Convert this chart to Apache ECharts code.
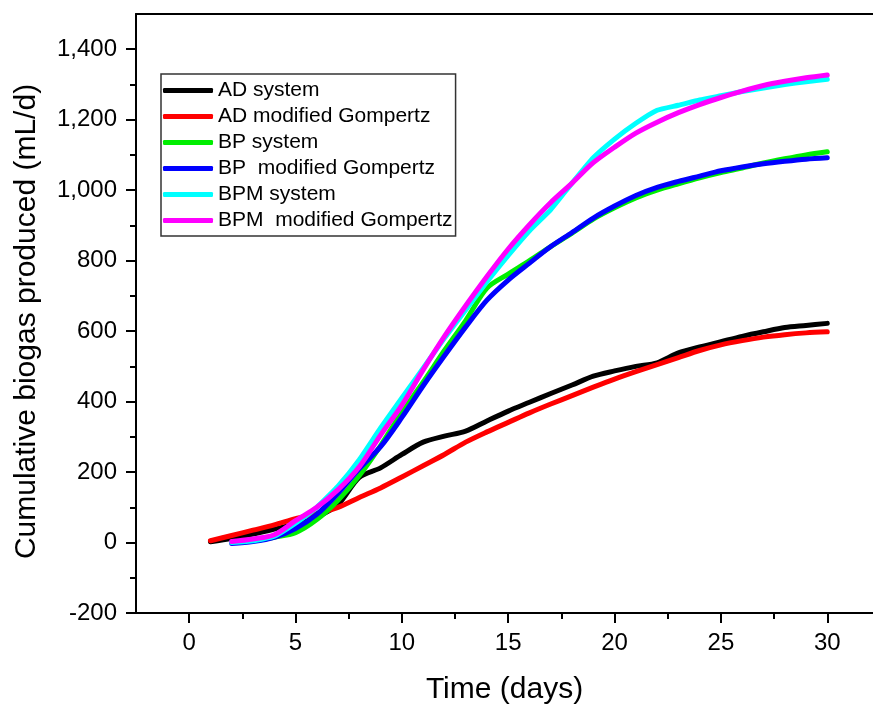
<!DOCTYPE html>
<html>
<head>
<meta charset="utf-8">
<script src="https://cdn.jsdelivr.net/npm/echarts@6/dist/echarts.min.js"></script>
<style>
  html, body { margin: 0; padding: 0; background: #fff; }
  #chart { width: 873px; height: 709px; }
</style>
</head>
<body>
<div id="chart"></div>
<script>
// days
var daysAD = [1,2,3,4,5,6,7,8,9,10,11,12,13,14,15,16,17,18,19,20,21,22,23,24,25,26,27,28,29,30];
var daysBP = [2,3,4,5,6,7,8,9,10,11,12,13,14,15,16,17,18,19,20,21,22,23,24,25,26,27,28,29,30];

// cumulative biogas (mL/d)
var adSystem   = [2,12,24,38,52,72,108,185,212,250,285,302,316,345,373,398,423,447,472,487,500,510,538,555,570,585,598,610,616,622];
var adGompertz = [5,20,35,50,68,82,100,128,155,186,218,250,285,314,341,368,393,417,441,464,485,505,525,545,561,573,583,590,595,598];
var bpSystem   = [0,5,15,28,65,120,190,275,370,455,545,630,722,762,800,840,878,918,950,978,1000,1018,1035,1050,1063,1077,1089,1100,1109];
var bpGompertz = [-3,3,15,40,80,140,210,272,355,445,530,612,688,745,793,840,880,921,955,985,1008,1025,1040,1055,1066,1075,1082,1088,1092];
var bpmSystem  = [0,5,18,55,100,160,235,325,410,495,580,660,740,815,885,945,1020,1092,1145,1190,1227,1241,1256,1268,1280,1290,1300,1308,1315];
var bpmGompertz= [3,10,22,62,100,150,215,305,390,490,585,672,755,833,902,965,1020,1078,1122,1162,1193,1220,1243,1263,1281,1297,1309,1319,1327];

// tick positions
var xMajor = [0,5,10,15,20,25,30];
var xMinor = [2.5,7.5,12.5,17.5,22.5,27.5];
var yMajor = [-200,0,200,400,600,800,1000,1200,1400];
var yMinor = [-100,100,300,500,700,900,1100,1300];

var font = 'Liberation Sans, Arial, sans-serif';

function pairs(days, vals) {
  return days.map(function (d, i) { return [d, vals[i]]; });
}

function line(name, color, days, vals, smooth) {
  return {
    name: name,
    type: 'line',
    data: pairs(days, vals),
    showSymbol: false,
    symbol: 'none',
    smooth: smooth,
    lineStyle: { color: color, width: 5, cap: 'round', join: 'round' },
    itemStyle: { color: color }
  };
}

var myChart = echarts.init(document.getElementById('chart'));

var option = {
  animation: false,
  backgroundColor: '#fff',
  textStyle: { fontFamily: font, color: '#000' },
  grid: { left: 136, top: 14, right: 0, bottom: 96, containLabel: false, outerBoundsMode: 'none' },
  legend: {
    orient: 'vertical',
    left: 161, top: 74,
    padding: [6, 3, 5, 2],
    itemGap: 5,
    itemWidth: 50,
    itemHeight: 5,
    icon: 'roundRect',
    backgroundColor: '#fff',
    borderColor: '#333',
    borderWidth: 1.5,
    borderRadius: 0,
    textStyle: { fontFamily: font, fontSize: 21, color: '#000' },
    data: ['AD system', 'AD modified Gompertz', 'BP system', 'BP  modified Gompertz', 'BPM system', 'BPM  modified Gompertz']
  },
  xAxis: [
    {
      type: 'value', position: 'bottom',
      min: -2.5, max: 32.15,
      splitLine: { show: false },
      axisLine: { onZero: false, lineStyle: { color: '#000', width: 2 } },
      axisTick: { customValues: xMajor, length: 10, lineStyle: { color: '#000', width: 2 } },
      axisLabel: { customValues: xMajor, fontSize: 24, color: '#000', fontFamily: font, margin: 18 },
      name: 'Time (days)', nameLocation: 'middle', nameGap: 62,
      nameTextStyle: { fontSize: 30, color: '#000', fontFamily: font }
    },
    {
      type: 'value', position: 'bottom',
      min: -2.5, max: 32.15,
      splitLine: { show: false },
      axisLine: { show: false, onZero: false },
      axisTick: { customValues: xMinor, length: 6, lineStyle: { color: '#000', width: 2 } },
      axisLabel: { show: false }
    },
    {
      type: 'value', position: 'top',
      min: -2.5, max: 32.15,
      splitLine: { show: false },
      axisLine: { onZero: false, lineStyle: { color: '#000', width: 2 } },
      axisTick: { show: false },
      axisLabel: { show: false }
    }
  ],
  yAxis: [
    {
      type: 'value', position: 'left',
      min: -200, max: 1500,
      splitLine: { show: false },
      axisLine: { onZero: false, lineStyle: { color: '#000', width: 2 } },
      axisTick: { customValues: yMajor, length: 10, lineStyle: { color: '#000', width: 2 } },
      axisLabel: {
        customValues: yMajor, fontSize: 24, color: '#000', fontFamily: font, margin: 19,
        formatter: function (v) { return v.toLocaleString('en-US'); }
      },
      name: 'Cumulative biogas produced (mL/d)', nameLocation: 'middle', nameGap: 94,
      nameTextStyle: { fontSize: 30, color: '#000', fontFamily: font, padding: [0, 16, 0, 0] }
    },
    {
      type: 'value', position: 'left',
      min: -200, max: 1500,
      splitLine: { show: false },
      axisLine: { show: false, onZero: false },
      axisTick: { customValues: yMinor, length: 6, lineStyle: { color: '#000', width: 2 } },
      axisLabel: { show: false }
    }
  ],
  series: [
    line('AD system', '#000000', daysAD, adSystem, 0.3),
    line('AD modified Gompertz', '#ff0000', daysAD, adGompertz, 0.3),
    line('BP system', '#00ee00', daysBP, bpSystem, 0.3),
    line('BP  modified Gompertz', '#0000ff', daysBP, bpGompertz, 0.3),
    line('BPM system', '#00ffff', daysBP, bpmSystem, 0.15),
    line('BPM  modified Gompertz', '#ff00ff', daysBP, bpmGompertz, 0.3)
  ]
};

myChart.setOption(option);
</script>
</body>
</html>
